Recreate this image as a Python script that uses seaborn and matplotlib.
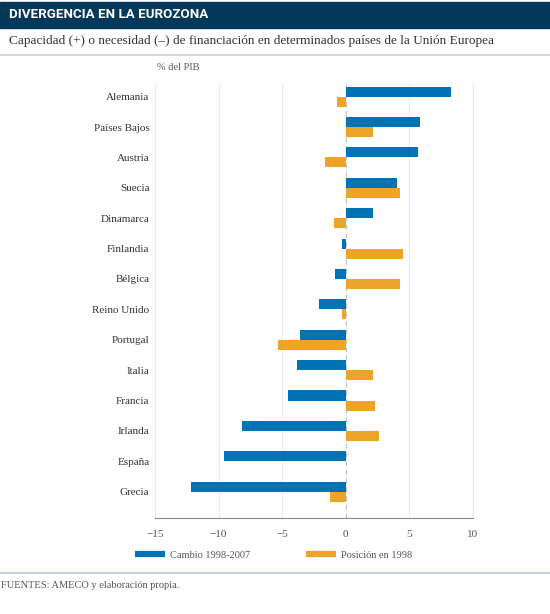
import seaborn as sns
import pandas as pd
import matplotlib.pyplot as plt
from matplotlib.lines import Line2D
from matplotlib.patches import Rectangle

paises = ['Alemania', 'Países Bajos', 'Austria', 'Suecia', 'Dinamarca', 'Finlandia',
          'Bélgica', 'Reino Unido', 'Portugal', 'Italia', 'Francia', 'Irlanda',
          'España', 'Grecia']
cambio = [8.3, 5.85, 5.7, 4.05, 2.2, -0.25, -0.8, -2.1, -3.6, -3.8, -4.5, -8.15, -9.55, -12.2]
posicion = [-0.7, 2.2, -1.65, 4.3, -0.9, 4.5, 4.3, -0.3, -5.3, 2.15, 2.35, 2.6, 0.0, -1.25]
series = ['Cambio 1998-2007', 'Posición en 1998']
ticks = [-15, -10, -5, 0, 5, 10]

azul = '#0073b5'
naranja = '#eea428'
navy = '#03385a'
gris_linea = '#c6d3dc'
texto = '#333333'

df = pd.DataFrame({
    'pais': paises * 2,
    'valor': cambio + posicion,
    'serie': [series[0]] * len(paises) + [series[1]] * len(paises),
})

sns.set_style('white')
plt.rcParams['font.family'] = ['Liberation Serif', 'DejaVu Serif']

fig = plt.figure(figsize=(5.5, 6.14), dpi=100)
W, H = 550, 614

# cabecera
fig.patches.append(Rectangle((0, 1 - 28 / H), 1, 26 / H, transform=fig.transFigure,
                             color=navy, zorder=0))
fig.text(9 / W, 1 - 15 / H, 'DIVERGENCIA EN LA EUROZONA', color='white',
         fontsize=9.6, fontweight='bold', family=['Roboto', 'DejaVu Sans'],
         va='center', ha='left')
fig.text(9 / W, 1 - 41 / H,
         'Capacidad (+) o necesidad (–) de financiación en determinados países de la Unión Europea',
         color=texto, fontsize=9.5, va='center', ha='left')
fig.add_artist(Line2D([0, 1], [1 - 55 / H] * 2, transform=fig.transFigure,
                      color=gris_linea, lw=1.2))
fig.text(157 / W, 1 - 68 / H, '% del PIB', color='#555555', fontsize=7.5,
         va='center', ha='left')

ax = fig.add_axes([155 / W, 1 - 517.5 / H, 317.5 / W, 434.5 / H])
sns.barplot(data=df, y='pais', x='valor', hue='serie', orient='h',
            palette=[azul, naranja], width=0.66, linewidth=0, saturation=1,
            ax=ax, legend=False)

ax.set_xlim(-15, 10)
ax.set_ylim(13.85, -0.45)
ax.set_xticks(ticks)
ax.set_xticklabels(['\u2212' + str(abs(t)) if t < 0 else str(t) for t in ticks])
for t in ticks:
    if t == 0:
        ax.axvline(t, color='#b8c6d0', lw=0.9, ls=(0, (4, 3)), zorder=0)
    else:
        ax.axvline(t, color='#e8ecef', lw=0.8, zorder=0, clip_on=False)
ax.set_xlabel('')
ax.set_ylabel('')
for s in ['top', 'right', 'left']:
    ax.spines[s].set_visible(False)
ax.spines['bottom'].set_color('#888888')
ax.spines['bottom'].set_linewidth(0.8)
ax.tick_params(axis='x', direction='in', length=5, width=0.8, color='#888888',
               labelsize=8, labelcolor='#555555', pad=9)
ax.tick_params(axis='y', length=0, labelsize=8, labelcolor=texto, pad=4)

# leyenda
handles = [Line2D([0], [0], color=azul, lw=4.5, solid_capstyle='butt'),
           Line2D([0], [0], color=naranja, lw=4.5, solid_capstyle='butt')]
fig.legend(handles, series, loc='center left', bbox_to_anchor=(135 / W, 1 - 555 / H),
           ncol=2, frameon=False, fontsize=7.5, handlelength=2.9, handletextpad=0.5,
           columnspacing=5.3, borderpad=0, borderaxespad=0, labelcolor='#555555')

fig.add_artist(Line2D([0, 1], [1 - 573 / H] * 2, transform=fig.transFigure,
                      color=gris_linea, lw=1.6))
fig.text(1 / W, 1 - 586 / H, 'FUENTES: AMECO y elaboración propia.', color='#555555',
         fontsize=7.5, va='center', ha='left')

fig.savefig('out.png', dpi=100)
